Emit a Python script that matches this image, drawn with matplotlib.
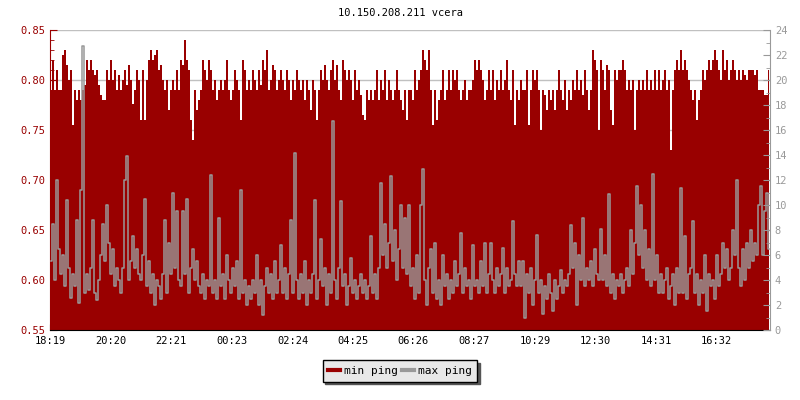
import numpy as np
import matplotlib
matplotlib.use("Agg")
import matplotlib.pyplot as plt
from matplotlib.lines import Line2D
from matplotlib.ticker import MultipleLocator

# --- data, one value every 4 minutes starting at 18:19 ---
title = "10.150.208.211 vcera"
start_time = "18:19"
step_min = 4

# min ping (left axis), in thousandths
min_ping_raw = """
790 820 790 810 790  790 825 830 815 800  810 755 790 780 790  780 790 795 820 810
820 810 805 810 795  785 780 780 810 800  820 800 810 790 805  790 800 810 795 815
800 776 790 810 800  760 810 760 800 820  830 820 825 830 810  815 800 790 800 770
790 800 790 810 790  820 815 840 820 810  760 740 790 770 780  790 820 810 800 820
810 790 800 780 790  800 790 800 820 790  780 790 810 800 790  760 820 810 790 800
790 810 800 790 810  795 820 810 830 790  800 815 810 790 800  810 800 790 810 800
780 800 790 810 800  790 800 780 800 790  770 800 790 760 790  810 800 815 800 790
810 820 800 815 790  780 820 810 800 810  800 780 810 790 800  785 765 760 790 780
790 780 790 810 780  800 790 810 780 800  790 780 790 810 790  780 770 790 760 790
790 780 810 790 800  810 830 820 810 830  790 755 790 760 780  790 810 780 790 810
790 810 800 810 790  780 790 800 780 790  790 800 820 810 820  810 800 780 790 810
790 810 780 800 790  810 790 800 820 790  780 810 755 790 780  800 790 790 810 755
790 810 800 810 790  750 790 785 770 790  780 790 770 790 810  790 780 800 770 790
780 800 790 810 790  800 785 810 790 770  790 830 820 810 750  820 810 790 815 810
770 755 810 800 810  810 820 810 790 800  790 800 750 790 800  790 800 790 810 790
800 790 810 790 810  790 800 810 790 800  730 790 810 820 810  830 810 820 810 800
790 780 790 760 780  790 810 800 810 820  810 820 830 820 810  800 830 810 820 800
810 820 810 800 810  800 810 805 800 810  810 810 805 810 790  790 790 785 785 810
"""

# max ping (right axis)
max_ping_raw = """
5.5 8.5 4.0 12.0 6.5  4.5 6.0 3.5 10.4 5.0  2.6 4.5 3.5 8.8 2.2  11.2 22.7 3.0 4.5 3.2
5.0 8.8 3.0 2.4 4.0  6.0 8.5 5.5 10.0 7.0  4.5 6.5 3.5 5.0 4.0  3.0 5.0 12.0 13.9 4.0
5.5 7.5 5.0 6.5 4.5  4.0 6.0 10.5 3.5 5.5  3.0 4.5 2.0 4.0 3.5  2.5 4.5 8.8 3.0 7.0
4.5 11.0 5.0 9.5 4.0  3.5 9.5 4.5 10.5 3.0  5.0 6.5 4.0 5.5 3.5  3.0 4.5 2.5 4.0 3.5
12.4 3.0 4.0 2.5 9.0  3.5 4.5 2.5 6.0 4.0  3.0 5.0 3.5 5.5 2.5  11.2 3.0 4.0 2.0 3.5
2.5 4.0 3.0 6.0 2.0  4.0 1.2 3.5 5.0 3.0  4.5 2.5 5.5 3.0 4.0  6.8 3.0 5.0 2.5 4.5
8.8 3.0 14.2 4.0 2.5  4.5 3.0 5.5 2.0 4.0  3.0 4.5 10.4 2.5 4.0  7.3 3.5 5.0 2.0 4.5
3.0 16.7 4.0 2.5 5.0  10.3 3.5 4.5 2.0 3.5  5.8 3.0 4.0 2.5 3.5  4.5 3.0 4.0 2.5 3.5
7.5 3.0 4.5 2.5 5.0  11.8 6.0 8.5 5.0 7.0  12.3 5.5 8.0 4.0 6.5  10.0 5.0 9.0 4.5 10.0
3.5 5.0 2.5 6.0 3.0  10.0 12.9 4.0 2.0 5.0  6.5 3.0 7.0 2.5 4.0  2.0 6.0 3.5 4.5 2.5
4.0 3.0 5.5 3.5 4.5  7.8 3.0 5.0 3.5 4.0  2.5 6.8 3.5 4.0 3.0  5.5 3.5 7.0 3.0 4.5
7.0 4.0 3.0 5.0 3.5  4.5 6.6 3.0 5.0 3.5  4.0 8.7 4.5 3.5 5.5  3.5 5.5 1.0 4.5 3.0
5.0 2.0 4.0 7.6 3.0  4.0 1.3 3.5 2.5 4.5  3.0 1.5 4.0 2.5 3.5  4.8 3.0 4.0 3.5 4.5
8.4 5.0 7.0 2.0 6.0  4.0 9.0 3.5 5.0 4.0  5.5 3.5 6.5 4.5 4.0  8.1 4.0 6.0 3.5 10.9
3.0 4.5 2.5 4.0 3.5  4.5 3.0 4.0 5.0 3.5  8.0 4.5 7.0 11.5 6.0  10.0 5.0 8.0 4.0 6.5
3.5 12.5 4.0 6.0 3.0  4.5 3.0 4.0 5.0 2.5  3.5 4.5 2.0 5.0 3.0  11.4 3.0 7.5 2.5 4.5
5.0 8.7 3.0 4.5 2.0  4.0 3.0 6.0 1.5 4.5  3.5 4.0 2.5 6.0 3.5  4.5 7.0 5.0 6.5 4.0
5.0 8.0 6.0 12.0 5.0  3.5 6.5 4.0 7.0 5.0  8.0 5.5 7.0 6.0 10.0  11.5 6.0 9.5 11.0 6.5
"""

tick_labels = ["18:19", "20:20", "22:21", "00:23", "02:24", "04:25",
               "06:26", "08:27", "10:29", "12:30", "14:31", "16:32"]

min_ping = np.array(min_ping_raw.split(), dtype=float) / 1000.0
max_ping = np.array(max_ping_raw.split(), dtype=float)


def minutes_from_start(label):
    h, m = map(int, label.split(":"))
    h0, m0 = map(int, start_time.split(":"))
    return ((h * 60 + m) - (h0 * 60 + m0)) % 1440


x = np.arange(len(min_ping)) * step_min + step_min / 2
tick_pos = [minutes_from_start(t) for t in tick_labels]

red = "#990000"
grey = "#999999"
plt.rcParams["font.family"] = ["DejaVu Sans Mono"]
plt.rcParams["font.size"] = 7

fig = plt.figure(figsize=(8, 4), dpi=100)
ax = fig.add_axes([50 / 800, 1 - 330 / 400, 720 / 800, 300 / 400])
ax2 = ax.twinx()

# min ping as filled area on the left axis
ax.fill_between(x, 0, min_ping, step="mid", color=red, linewidth=0, zorder=2)
ax.set_ylim(0.55, 0.85)
ax.set_xlim(0, 1440)
ax.yaxis.set_major_locator(MultipleLocator(0.05))
ax.yaxis.set_minor_locator(MultipleLocator(0.01))
ax.yaxis.set_major_formatter(matplotlib.ticker.FormatStrFormatter("%.2f"))
ax.grid(axis="y", color="#c0c0c0", linewidth=1, zorder=1)
ax.set_axisbelow(True)

ax.set_xticks(tick_pos)
ax.set_xticklabels(tick_labels)
ax.tick_params(axis="x", direction="in", length=4, color="black", pad=4,
               labelcolor="black", labelsize=7.5)
ax.tick_params(axis="y", which="both", direction="in", color=red,
               labelcolor=red, labelsize=7.5)
ax.tick_params(axis="y", which="major", length=5)
ax.tick_params(axis="y", which="minor", length=3)
ax.spines["left"].set_color(red)
ax.spines["bottom"].set_color("black")
ax.spines["top"].set_visible(False)
ax.spines["right"].set_visible(False)

# max ping as a step line on the right axis
ax2.plot(x, max_ping, drawstyle="steps-mid", color=grey, linewidth=1.1)
ax2.set_ylim(0, 24)
ax2.yaxis.set_major_locator(MultipleLocator(2))
ax2.yaxis.set_minor_locator(MultipleLocator(1))
ax2.tick_params(axis="y", which="both", direction="in", color=grey,
                labelcolor=grey, labelsize=7.5)
ax2.tick_params(axis="y", which="major", length=5)
ax2.tick_params(axis="y", which="minor", length=3)
ax2.spines["right"].set_color(grey)
ax2.spines["left"].set_visible(False)
ax2.spines["top"].set_visible(False)
ax2.spines["bottom"].set_visible(False)

fig.text(0.5, 1 - 13 / 400, title, ha="center", va="center", fontsize=7.5)

handles = [Line2D([], [], color=red, linewidth=3),
           Line2D([], [], color=grey, linewidth=3)]
leg = fig.legend(handles, ["min ping", "max ping"], loc="center",
                 bbox_to_anchor=(0.5, 1 - 371 / 400), ncol=2, frameon=True,
                 fancybox=False, shadow={"color": "#555555", "alpha": 1},
                 facecolor="#e8e8e8", edgecolor="black", fontsize=8,
                 handlelength=1.1, handletextpad=0.3, columnspacing=0.4,
                 borderpad=0.5)
leg.get_frame().set_linewidth(1)
leg.get_frame().set_alpha(1)

fig.savefig("out.png", dpi=100)
